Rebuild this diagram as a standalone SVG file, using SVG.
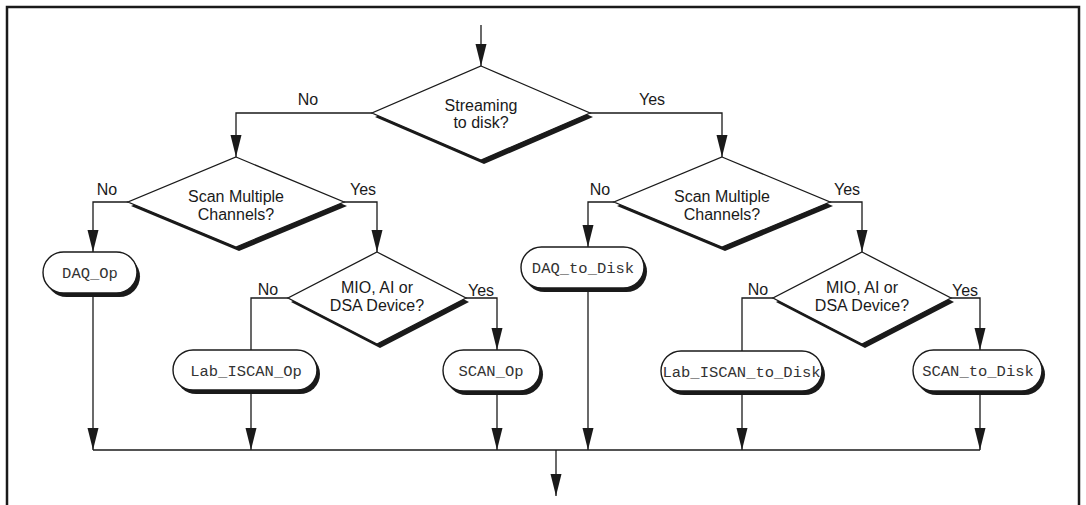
<svg xmlns="http://www.w3.org/2000/svg" width="1086" height="505" viewBox="0 0 1086 505">
<style>
.frame{fill:none;stroke:#1a1a1a;stroke-width:2.5}
.dia{fill:#fff;stroke:#1a1a1a;stroke-width:1.3}
.dsh{fill:#1a1a1a}
.pill{fill:#fff;stroke:#1a1a1a;stroke-width:1.4}
.psh{fill:#1a1a1a}
.lbl{font-family:"Liberation Sans",Arial,sans-serif;font-size:16px;fill:#1a1a1a;text-anchor:middle}
.mono{font-family:"Liberation Mono","Courier New",monospace;font-size:15.5px;fill:#333;text-anchor:middle}
.con{fill:none;stroke:#1a1a1a;stroke-width:1.3}
.arr{marker-end:url(#ah)}
</style>
<defs>
<marker id="ah" markerUnits="userSpaceOnUse" viewBox="0 0 22 12" refX="22" refY="6" markerWidth="22" markerHeight="12" orient="auto">
<path d="M0,0.5 L22,6 L0,11.5 z" fill="#1a1a1a"/>
</marker>
</defs>
<rect width="1086" height="505" fill="#fff"/>
<path class="frame" d="M7,505 V7 H1079 V505"/>

<g id="connectors">
<path class="con arr" d="M481,25 V66"/>
<path class="con arr" d="M372,113 H236 V157"/>
<path class="con arr" d="M590,113 H722 V157"/>
<path class="con arr" d="M128,202 H93 V252"/>
<path class="con arr" d="M344,202 H377 V252"/>
<path class="con" d="M288,298 H251 V350"/>
<path class="con arr" d="M466,298 H497 V350"/>
<path class="con arr" d="M614,202 H588 V247"/>
<path class="con arr" d="M830,202 H862 V252"/>
<path class="con" d="M773,298 H742 V351"/>
<path class="con arr" d="M951,298 H980 V350"/>
<path class="con arr" d="M93,293 V450"/>
<path class="con arr" d="M251,390 V450"/>
<path class="con arr" d="M497,391 V450"/>
<path class="con arr" d="M588,288 V450"/>
<path class="con arr" d="M742,391 V450"/>
<path class="con arr" d="M980,391 V450"/>
<path class="con" d="M93,450 H980"/>
<path class="con arr" d="M556,450 V496"/>
<text class="lbl" x="308" y="105">No</text>
<text class="lbl" x="652" y="105">Yes</text>
<text class="lbl" x="107" y="195">No</text>
<text class="lbl" x="363" y="195">Yes</text>
<text class="lbl" x="268" y="295">No</text>
<text class="lbl" x="481" y="296">Yes</text>
<text class="lbl" x="600" y="195">No</text>
<text class="lbl" x="847" y="195">Yes</text>
<text class="lbl" x="758" y="295">No</text>
<text class="lbl" x="965" y="296">Yes</text>
</g>

<g id="d1">
<polygon class="dsh" points="484,70 593,117 484,164 375,117"/>
<polygon class="dia" points="481,66 590,113 481,160 372,113"/>
<text class="lbl" x="481" y="111">Streaming</text>
<text class="lbl" x="481" y="128">to disk?</text>
</g>
<g id="d2">
<polygon class="dsh" points="239,161 347,206 239,251 131,206"/>
<polygon class="dia" points="236,157 344,202 236,247 128,202"/>
<text class="lbl" x="236" y="202">Scan Multiple</text>
<text class="lbl" x="236" y="220">Channels?</text>
</g>
<g id="d3">
<polygon class="dsh" points="380,256 469,302 380,348 291,302"/>
<polygon class="dia" points="377,252 466,298 377,344 288,298"/>
<text class="lbl" x="377" y="293">MIO, AI or</text>
<text class="lbl" x="377" y="311">DSA Device?</text>
</g>
<g id="d4">
<polygon class="dsh" points="725,161 833,206 725,251 617,206"/>
<polygon class="dia" points="722,157 830,202 722,247 614,202"/>
<text class="lbl" x="722" y="202">Scan Multiple</text>
<text class="lbl" x="722" y="220">Channels?</text>
</g>
<g id="d5">
<polygon class="dsh" points="865,256 954,302 865,348 776,302"/>
<polygon class="dia" points="862,252 951,298 862,344 773,298"/>
<text class="lbl" x="862" y="293">MIO, AI or</text>
<text class="lbl" x="862" y="311">DSA Device?</text>
</g>

<g id="daq_op">
<rect class="psh" x="46" y="256" width="94" height="41" rx="20.5"/>
<rect class="pill" x="43" y="252" width="94" height="41" rx="20.5"/>
<text class="mono" x="90" y="278">DAQ_Op</text>
</g>
<g id="lab_iscan_op">
<rect class="psh" x="176" y="354" width="144" height="40" rx="20"/>
<rect class="pill" x="173" y="350" width="144" height="40" rx="20"/>
<text class="mono" x="246" y="376">Lab_ISCAN_Op</text>
</g>
<g id="scan_op">
<rect class="psh" x="446" y="354" width="97" height="41" rx="20.5"/>
<rect class="pill" x="443" y="350" width="97" height="41" rx="20.5"/>
<text class="mono" x="491" y="376">SCAN_Op</text>
</g>
<g id="daq_to_disk">
<rect class="psh" x="524" y="251" width="123" height="41" rx="20.5"/>
<rect class="pill" x="521" y="247" width="123" height="41" rx="20.5"/>
<text class="mono" x="583" y="273">DAQ_to_Disk</text>
</g>
<g id="lab_iscan_to_disk">
<rect class="psh" x="664" y="355" width="161" height="40" rx="20"/>
<rect class="pill" x="661" y="351" width="161" height="40" rx="20"/>
<text class="mono" x="741.5" y="377">Lab_ISCAN_to_Disk</text>
</g>
<g id="scan_to_disk">
<rect class="psh" x="916" y="354" width="129" height="41" rx="20.5"/>
<rect class="pill" x="913" y="350" width="129" height="41" rx="20.5"/>
<text class="mono" x="978" y="376">SCAN_to_Disk</text>
</g>
</svg>
